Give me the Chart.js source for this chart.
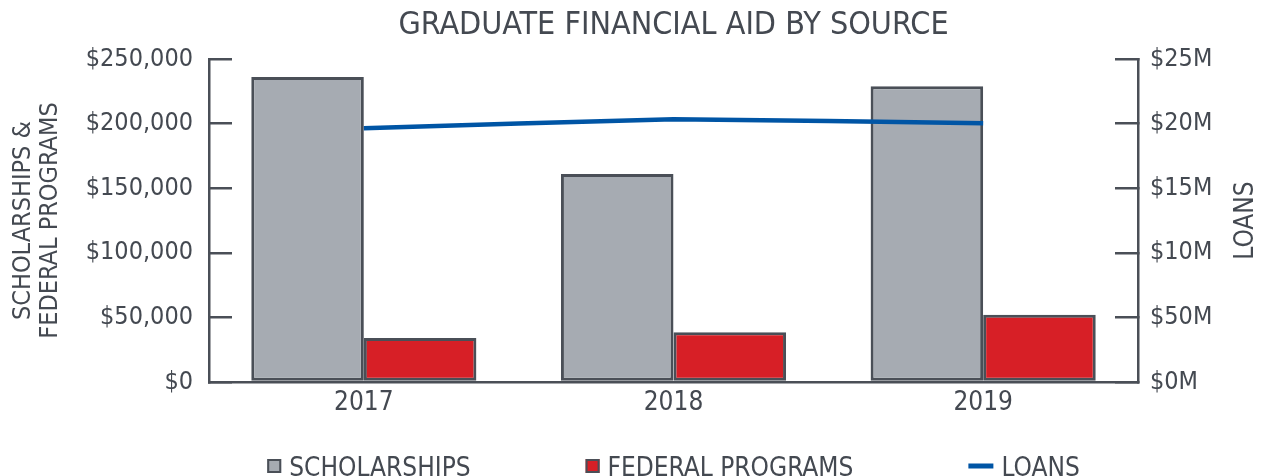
<!DOCTYPE html>
<html lang="en">
<head>
    <meta charset="UTF-8">
    <title>Graduate Financial Aid by Source</title>
    <style>
        html, body {
            margin: 0;
            padding: 0;
            background: #fff;
        }
        .chart-box {
            width: 1270px;
            height: 476px;
        }
    </style>
</head>
<body>
    <div class="chart-box">
        <canvas id="aidChart"></canvas>
    </div>

    <script src="https://cdn.jsdelivr.net/npm/chart.js"></script>
    <script>
        // Data
        const years = ['2017', '2018', '2019'];
        const scholarships = [236000, 161000, 229000];
        const federalPrograms = [34000, 38500, 52000];
        const loans = [19.64, 20.33, 20.02]; // millions

        const leftTicks = ['$0', '$50,000', '$100,000', '$150,000', '$200,000', '$250,000'];
        const rightTicks = ['$0M', '$50M', '$10M', '$15M', '$20M', '$25M'];

        const FONT = "'Liberation Sans Narrow', 'DejaVu Sans Condensed', 'Liberation Sans', sans-serif";
        const TEXT = '#444951';
        const AXIS = '#4a4f57';

        Chart.defaults.font.family = FONT;
        Chart.defaults.color = TEXT;

        // legend row drawn along the bottom edge
        const legendRow = {
            id: 'legendRow',
            afterDraw(chart) {
                const ctx = chart.ctx;
                const area = chart.chartArea;
                const gap = 115;
                ctx.save();
                ctx.font = '26px ' + FONT;
                ctx.textBaseline = 'middle';
                const items = chart.data.datasets.map(ds => {
                    const isLine = ds.type === 'line';
                    const markW = isLine ? 25 : 14;
                    return { ds, isLine, markW, textW: ctx.measureText(ds.label).width };
                });
                const total = items.reduce((s, it) => s + it.markW + 8 + it.textW, 0) + gap * (items.length - 1);
                let x = (area.left + area.right) / 2 - total / 2;
                const y = chart.height - 10;
                items.forEach(it => {
                    if (it.isLine) {
                        ctx.fillStyle = it.ds.borderColor;
                        ctx.fillRect(x, y - 2.5, it.markW, 5);
                    } else {
                        ctx.fillStyle = it.ds.backgroundColor;
                        ctx.fillRect(x, y - 7, 14, 14);
                        ctx.strokeStyle = it.ds.borderColor;
                        ctx.lineWidth = 2;
                        ctx.strokeRect(x + 1, y - 6, 12, 12);
                    }
                    x += it.markW + 8;
                    ctx.fillStyle = TEXT;
                    ctx.textAlign = 'left';
                    ctx.fillText(it.ds.label, x, y + 3);
                    x += it.textW + gap;
                });
                ctx.restore();
            }
        };

        // right axis title reads bottom-to-top like the left one
        const rightTitle = {
            id: 'rightTitle',
            afterDraw(chart) {
                const s = chart.scales.y1;
                const ctx = chart.ctx;
                ctx.save();
                ctx.translate(s.right - 24, (s.top + s.bottom) / 2);
                ctx.rotate(-Math.PI / 2);
                ctx.font = '26px ' + FONT;
                ctx.fillStyle = TEXT;
                ctx.textAlign = 'center';
                ctx.textBaseline = 'middle';
                ctx.fillText('LOANS', 0, 0);
                ctx.restore();
            }
        };

        const ctx = document.getElementById('aidChart').getContext('2d');

        new Chart(ctx, {
            type: 'bar',
            data: {
                labels: years,
                datasets: [{
                    label: 'SCHOLARSHIPS',
                    data: scholarships,
                    backgroundColor: '#a6abb2',
                    borderColor: AXIS,
                    borderWidth: 3,
                    borderSkipped: false,
                    yAxisID: 'y',
                    order: 1
                }, {
                    label: 'FEDERAL PROGRAMS',
                    data: federalPrograms,
                    backgroundColor: '#d71f26',
                    borderColor: AXIS,
                    borderWidth: 3,
                    borderSkipped: false,
                    yAxisID: 'y',
                    order: 1
                }, {
                    type: 'line',
                    label: 'LOANS',
                    data: loans,
                    borderColor: '#0055a5',
                    backgroundColor: '#0055a5',
                    borderWidth: 4.5,
                    pointRadius: 0,
                    tension: 0.15,
                    yAxisID: 'y1',
                    order: 0
                }]
            },
            options: {
                responsive: true,
                maintainAspectRatio: false,
                animation: false,
                layout: { padding: 0 },
                datasets: {
                    bar: {
                        categoryPercentage: 0.727,
                        barPercentage: 1
                    }
                },
                plugins: {
                    legend: { display: false },
                    tooltip: { enabled: false },
                    title: {
                        display: true,
                        fullSize: false,
                        text: 'GRADUATE FINANCIAL AID BY SOURCE',
                        color: TEXT,
                        font: { size: 32, weight: 'normal' },
                        padding: { top: 6, bottom: 14.6 }
                    }
                },
                scales: {
                    x: {
                        grid: { display: false, drawTicks: false },
                        border: { display: true, color: AXIS, width: 2.5 },
                        ticks: { color: TEXT, font: { size: 26 }, padding: 6 },
                        afterFit: s => { s.height = 94; }
                    },
                    y: {
                        position: 'left',
                        min: 0,
                        max: 250000,
                        ticks: {
                            stepSize: 50000,
                            padding: 39,
                            color: TEXT,
                            font: { size: 25 },
                            callback: (v, i) => leftTicks[i]
                        },
                        grid: { drawOnChartArea: false, tickLength: -23, color: AXIS, lineWidth: 2.5 },
                        border: { display: true, color: AXIS, width: 2.5 },
                        title: {
                            display: true,
                            text: ['SCHOLARSHIPS &', 'FEDERAL PROGRAMS'],
                            color: TEXT,
                            font: { size: 25, lineHeight: 1.08 },
                            padding: { top: 10, bottom: 0 }
                        },
                        afterFit: s => { s.width = 209; }
                    },
                    y1: {
                        position: 'right',
                        min: 0,
                        max: 25,
                        ticks: {
                            stepSize: 5,
                            padding: 35,
                            color: TEXT,
                            font: { size: 25 },
                            callback: (v, i) => rightTicks[i]
                        },
                        grid: { drawOnChartArea: false, tickLength: -23, color: AXIS, lineWidth: 2.5 },
                        border: { display: true, color: AXIS, width: 2.5 },
                        afterFit: s => { s.width = 132; }
                    }
                }
            },
            plugins: [legendRow, rightTitle]
        });
    </script>
</body>
</html>
